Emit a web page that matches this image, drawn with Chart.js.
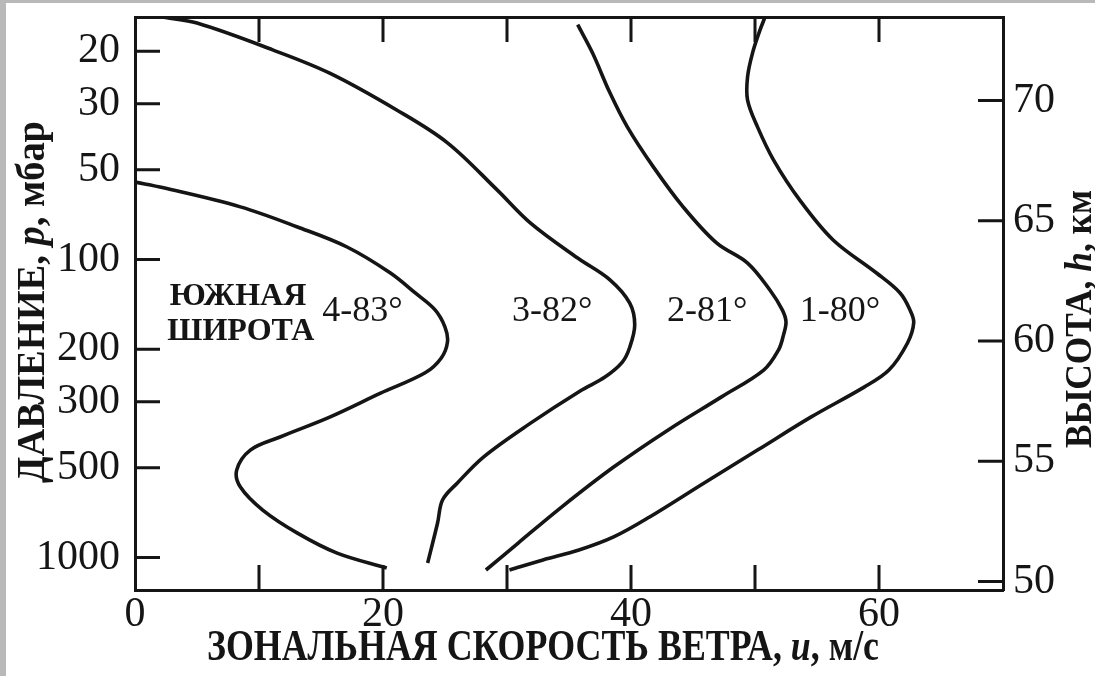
<!DOCTYPE html>
<html>
<head>
<meta charset="utf-8">
<script src="https://cdn.jsdelivr.net/npm/chart.js@4.4.1/dist/chart.umd.min.js"></script>
<style>
  html, body { margin: 0; padding: 0; background: #fff; }
  #wrap { width: 1095px; height: 676px; }
</style>
</head>
<body>
<div id="wrap"><canvas id="c" width="1095" height="676"></canvas></div>
<script>
// Zonal wind speed u (m/s) against pressure p (mbar) for four southern latitudes

// axis ticks
const speedTicks = [0, 10, 20, 30, 40, 50, 60, 70];
const speedLabels = ['0', '', '20', '', '40', '', '60', ''];
const pressureTicks = [20, 30, 50, 100, 200, 300, 500, 1000];
const heightTicks = [50, 55, 60, 65, 70];

// profile 4 — 83° S
const windLat83 = [0, 2.3, 8.5, 13.1, 17.1, 20.6, 22.6, 24.2, 25.0, 25.2, 24.7, 23.4, 19.8, 15.7, 11.7, 9.3, 8.2, 8.5, 10.3, 13.1, 16.3, 20.3];
const presLat83 = [55, 57.5, 66.6, 77.8, 90.8, 111, 129.5, 147.6, 168.5, 189, 214, 240, 281, 338, 394, 436, 509, 580, 693, 828, 966, 1084];

// profile 3 — 82° S
const windLat82 = [2.3, 5.0, 11.1, 15.7, 21.1, 25.2, 29.2, 31.9, 35.7, 38.3, 39.9, 40.3, 39.9, 39.3, 37.9, 35.9, 31.9, 28.1, 26.0, 24.8, 24.4, 23.6];
const presLat82 = [15.4, 16.1, 19.8, 23.7, 31.5, 40.6, 58.4, 75.5, 98.9, 117, 140, 166, 197, 221, 248, 276, 354, 460, 562, 641, 766, 1043];

// profile 2 — 81° S
const windLat81 = [35.7, 36.9, 38.3, 39.7, 41.8, 44.2, 46.9, 49.4, 51.2, 52.2, 52.5, 52.3, 51.9, 50.7, 47.3, 43.0, 38.6, 34.4, 30.9, 28.3];
const presLat81 = [16.3, 20.3, 27.6, 35.9, 48.9, 66.6, 88.0, 102.8, 126.6, 147.6, 162, 179, 201, 235, 289, 373, 497, 677, 894, 1101];

// profile 1 — 80° S
const windLat80 = [50.8, 50.4, 49.8, 49.4, 49.4, 50.2, 51.5, 53.6, 56.3, 59.8, 61.7, 62.5, 62.8, 62.3, 60.8, 58.8, 54.5, 50.2, 45.9, 41.5, 38.6, 35.8, 32.9, 30.2];
const presLat80 = [15.4, 17.0, 20.3, 24.4, 29.2, 35.9, 46.4, 63.1, 86.0, 111, 129.5, 147.6, 163, 190.6, 235, 268, 338, 436, 562, 731, 853, 944, 1019, 1101];

const profileNames = ['4-83°', '3-82°', '2-81°', '1-80°'];

const INK = '#151515';
const SERIF = '"Liberation Serif", "Times New Roman", serif';

function toPoints(winds, pres) {
  return winds.map((u, i) => ({ x: u, y: pres[i] }));
}

function profile(winds, pres, name) {
  return {
    label: name,
    data: toPoints(winds, pres),
    showLine: true,
    borderColor: INK,
    borderWidth: 3.6,
    pointRadius: 0,
    tension: 0.35,
    fill: false
  };
}

function fixedSize(prop, size) {
  return function (s) {
    s[prop] = size;
    s.paddingTop = 0; s.paddingBottom = 0; s.paddingLeft = 0; s.paddingRight = 0;
  };
}

const tickFont = { family: SERIF, size: 42 };
const frame = { display: true, width: 3, color: INK };

// paper edge
const paperEdge = {
  id: 'paperEdge',
  beforeDraw(chart) {
    const ctx = chart.ctx;
    ctx.save();
    ctx.fillStyle = '#ffffff';
    ctx.fillRect(0, 0, chart.width, chart.height);
    ctx.fillStyle = '#b9b9b9';
    ctx.fillRect(0, 0, 6, chart.height);
    ctx.fillRect(0, 0, chart.width, 3);
    ctx.restore();
  }
};

// tick marks pointing into the plot
const inwardTicks = {
  id: 'inwardTicks',
  afterDraw(chart) {
    const { ctx, chartArea: a, scales } = chart;
    const len = 25;
    ctx.save();
    ctx.strokeStyle = INK;
    ctx.lineWidth = 3;
    ctx.beginPath();
    speedTicks.slice(1, -1).forEach(v => {
      const xb = scales.x.getPixelForValue(v);
      ctx.moveTo(xb, a.bottom); ctx.lineTo(xb, a.bottom - len);
      const xt = scales.x2.getPixelForValue(v);
      ctx.moveTo(xt, a.top); ctx.lineTo(xt, a.top + len);
    });
    pressureTicks.forEach(v => {
      const y = scales.y.getPixelForValue(v);
      ctx.moveTo(a.left, y); ctx.lineTo(a.left + len, y);
    });
    heightTicks.forEach(v => {
      const y = scales.y2.getPixelForValue(v);
      ctx.moveTo(a.right, y); ctx.lineTo(a.right - len, y);
    });
    ctx.stroke();
    ctx.restore();
  }
};

function drawRich(ctx, runs, x, y, angle, width) {
  ctx.save();
  let total = 0;
  const widths = runs.map(r => {
    ctx.font = r[1];
    const w = ctx.measureText(r[0]).width;
    total += w;
    return w;
  });
  ctx.translate(x, y);
  ctx.rotate(angle);
  ctx.scale(width / total, 1);
  ctx.textAlign = 'left';
  ctx.textBaseline = 'alphabetic';
  ctx.fillStyle = INK;
  let cx = -total / 2;
  runs.forEach((r, i) => {
    ctx.font = r[1];
    ctx.fillText(r[0], cx, 0);
    cx += widths[i];
  });
  ctx.restore();
}

// axis titles and in-plot captions
const captions = {
  id: 'captions',
  afterDraw(chart) {
    const { ctx, scales } = chart;
    const b44 = 'bold 44px ' + SERIF, bi44 = 'italic bold 44px ' + SERIF;
    const b40 = 'bold 40px ' + SERIF, bi40 = 'italic bold 40px ' + SERIF;
    const b37 = 'bold 37px ' + SERIF, bi37 = 'italic bold 37px ' + SERIF;

    drawRich(ctx, [['ЗОНАЛЬНАЯ СКОРОСТЬ ВЕТРА, ', b44], ['u', bi44], [', м/с', b44]], 543, 660, 0, 672);
    drawRich(ctx, [['ДАВЛЕНИЕ, ', b40], ['p', bi40], [', мбар', b40]], 44, 302, -Math.PI / 2, 362);
    drawRich(ctx, [['ВЫСОТА, ', b37], ['h', bi37], [', км', b37]], 1091, 319, -Math.PI / 2, 258);

    ctx.save();
    ctx.fillStyle = INK;
    ctx.textAlign = 'left';
    ctx.textBaseline = 'alphabetic';
    ctx.font = 'bold 32px ' + SERIF;
    ctx.fillText('ЮЖНАЯ', scales.x.getPixelForValue(2.8), scales.y.getPixelForValue(142));
    ctx.fillText('ШИРОТА', scales.x.getPixelForValue(2.6), scales.y.getPixelForValue(186));

    ctx.font = '36px ' + SERIF;
    const anchors = [15.1, 30.4, 42.9, 53.6];
    profileNames.forEach((t, i) => {
      ctx.fillText(t, scales.x.getPixelForValue(anchors[i]), scales.y.getPixelForValue(161));
    });
    ctx.restore();
  }
};

new Chart(document.getElementById('c').getContext('2d'), {
  type: 'scatter',
  data: {
    datasets: [
      profile(windLat83, presLat83, profileNames[0]),
      profile(windLat82, presLat82, profileNames[1]),
      profile(windLat81, presLat81, profileNames[2]),
      profile(windLat80, presLat80, profileNames[3])
    ]
  },
  options: {
    responsive: false,
    animation: false,
    devicePixelRatio: 1,
    layout: { padding: 0 },
    plugins: { legend: { display: false }, tooltip: { enabled: false } },
    scales: {
      x: {
        type: 'linear', position: 'bottom', min: 0, max: 70,
        afterBuildTicks: s => { s.ticks = speedTicks.map(v => ({ value: v })); },
        afterFit: fixedSize('height', 86),
        grid: { display: false, drawTicks: false },
        border: frame,
        ticks: {
          font: tickFont, color: INK, padding: 0, maxRotation: 0, autoSkip: false,
          callback: (v, i) => speedLabels[i]
        }
      },
      x2: {
        type: 'linear', position: 'top', min: 0, max: 70,
        afterFit: fixedSize('height', 17),
        grid: { display: false, drawTicks: false },
        border: frame,
        ticks: { display: false }
      },
      y: {
        type: 'logarithmic', position: 'left', reverse: true, min: 15.36, max: 1285,
        afterBuildTicks: s => { s.ticks = pressureTicks.map(v => ({ value: v })); },
        afterFit: fixedSize('width', 135),
        grid: { display: false, drawTicks: false },
        border: frame,
        ticks: { font: tickFont, color: INK, padding: 15, autoSkip: false, callback: v => String(v) }
      },
      y2: {
        type: 'linear', position: 'right', min: 49.65, max: 73.47,
        afterBuildTicks: s => { s.ticks = heightTicks.map(v => ({ value: v })); },
        afterFit: fixedSize('width', 92),
        grid: { display: false, drawTicks: false },
        border: frame,
        ticks: { font: tickFont, color: INK, padding: 10, autoSkip: false, callback: v => String(v) }
      }
    }
  },
  plugins: [paperEdge, inwardTicks, captions]
});
</script>
</body>
</html>
